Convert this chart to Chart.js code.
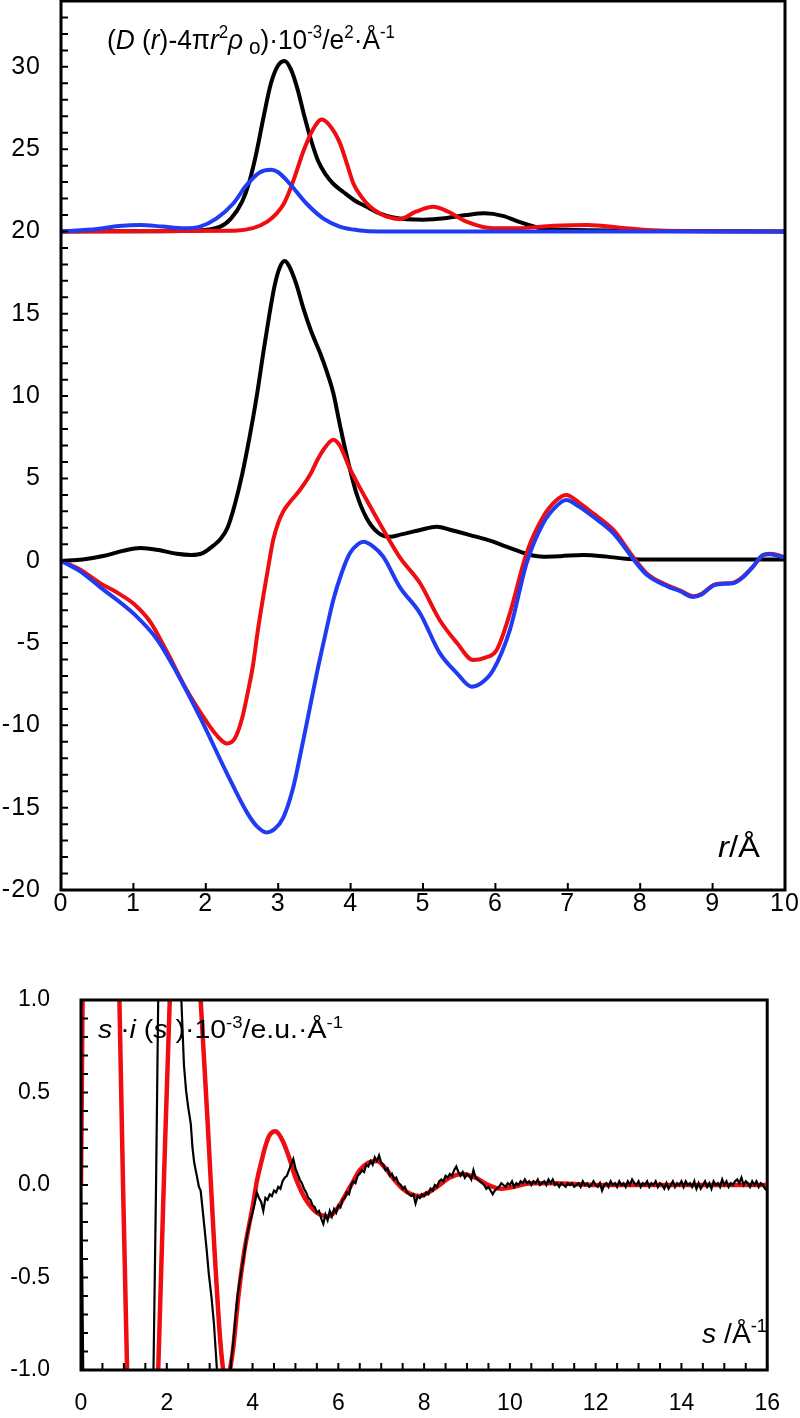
<!DOCTYPE html>
<html lang="en">
<head>
  <meta charset="UTF-8">
  <title>D(r) and s·i(s) curves</title>
  <script src="https://cdn.jsdelivr.net/npm/chart.js"></script>
  <style>
    body { margin: 0; background: #fff; }
    .panel { position: absolute; left: 0; width: 800px; }
    #topPanel { top: 0; height: 920px; }
    #bottomPanel { top: 985px; height: 433px; }
  </style>
</head>
<body>
  <div class="panel" id="topPanel"><canvas id="drChart" width="800" height="920"></canvas></div>
  <div class="panel" id="bottomPanel"><canvas id="siChart" width="800" height="433"></canvas></div>

  <script>
    // ---- top panel: radial distribution curves (upper set shifted by +20) ----
    const rBlackUp = [0, 1.0, 1.8, 2.2, 2.35, 2.5, 2.6, 2.7, 2.8, 2.9, 3.0, 3.09, 3.18, 3.27, 3.35, 3.45, 3.55, 3.65, 3.76, 3.9, 4.05, 4.22, 4.4, 4.59, 5.0, 5.3, 5.6, 5.85, 6.1, 6.35, 6.62, 7.0, 8.0, 10];
    const dBlackUp = [20, 20.02, 20.05, 20.3, 20.8, 21.8, 23.0, 24.8, 27.0, 29.0, 30.1, 30.36, 29.8, 28.6, 27.2, 25.6, 24.3, 23.5, 22.9, 22.4, 21.9, 21.5, 21.1, 20.85, 20.72, 20.8, 21.0, 21.1, 20.95, 20.55, 20.2, 20.1, 20.05, 20.0];

    const rRedUp = [0, 2.4, 2.65, 2.85, 2.98, 3.08, 3.16, 3.25, 3.35, 3.48, 3.6, 3.7, 3.85, 3.95, 4.04, 4.15, 4.27, 4.4, 4.5, 4.68, 4.9, 5.14, 5.35, 5.6, 5.97, 6.3, 6.8, 7.27, 7.8, 8.3, 10];
    const dRedUp = [20, 20.05, 20.2, 20.6, 21.1, 21.7, 22.5, 23.6, 24.9, 26.2, 26.8, 26.5, 25.4, 24.1, 22.9, 22.1, 21.5, 21.1, 20.9, 20.75, 21.2, 21.5, 21.2, 20.6, 20.2, 20.2, 20.35, 20.4, 20.2, 20.05, 20.0];

    const rBlueUp = [0, 0.5, 0.8, 1.09, 1.4, 1.7, 1.92, 2.15, 2.38, 2.56, 2.75, 2.9, 3.0, 3.16, 3.39, 3.62, 3.85, 4.1, 4.4, 10];
    const dBlueUp = [20, 20.15, 20.33, 20.4, 20.3, 20.2, 20.3, 20.8, 21.7, 22.8, 23.6, 23.75, 23.6, 22.9, 21.7, 20.8, 20.3, 20.08, 20.0, 20.0];

    const rBlackLow = [0, 0.3, 0.6, 0.85, 1.1, 1.35, 1.6, 1.8, 1.95, 2.1, 2.2, 2.3, 2.4, 2.5, 2.6, 2.7, 2.8, 2.88, 2.95, 3.02, 3.09, 3.15, 3.25, 3.35, 3.45, 3.58, 3.67, 3.76, 3.85, 3.95, 4.08, 4.22, 4.38, 4.54, 4.7, 4.96, 5.19, 5.4, 5.65, 5.97, 6.15, 6.34, 6.5, 6.66, 6.9, 7.21, 7.54, 7.8, 8.0, 10];
    const dBlackLow = [0, 0.08, 0.3, 0.6, 0.78, 0.65, 0.42, 0.35, 0.45, 0.9, 1.3, 2.0, 3.4, 5.2, 7.4, 9.9, 12.8, 15.0, 16.7, 17.8, 18.2, 17.9, 16.8, 15.3, 14.0, 12.6, 11.5, 10.2, 8.3, 6.3, 4.1, 2.6, 1.7, 1.45, 1.6, 1.87, 2.07, 1.85, 1.56, 1.16, 0.85, 0.55, 0.33, 0.25, 0.28, 0.35, 0.25, 0.12, 0.08, 0.08];

    const rRedLow = [0, 0.25, 0.54, 0.8, 1.0, 1.23, 1.46, 1.73, 2.0, 2.15, 2.29, 2.4, 2.5, 2.58, 2.65, 2.72, 2.8, 2.87, 2.93, 3.0, 3.07, 3.15, 3.3, 3.45, 3.55, 3.65, 3.76, 3.85, 3.99, 4.22, 4.45, 4.68, 4.96, 5.23, 5.47, 5.69, 5.85, 6.02, 6.2, 6.43, 6.66, 6.85, 6.98, 7.15, 7.35, 7.63, 7.9, 8.09, 8.37, 8.55, 8.73, 8.85, 9.01, 9.15, 9.29, 9.42, 9.55, 9.7, 9.79, 9.9, 10];
    const dRedLow = [0, -0.5, -1.36, -2.0, -2.6, -3.7, -5.5, -7.8, -9.7, -10.6, -11.1, -10.8, -9.6, -8.0, -6.4, -4.2, -2.0, -0.2, 1.25, 2.3, 3.0, 3.5, 4.3, 5.3, 6.2, 6.9, 7.35, 7.0, 5.6, 3.7, 1.9, 0.2, -1.37, -3.6, -5.0, -6.03, -5.9, -5.4, -3.2, 0.45, 2.67, 3.7, 4.0, 3.55, 2.88, 1.87, 0.25, -0.77, -1.48, -1.8, -2.15, -2.0, -1.48, -1.38, -1.33, -0.97, -0.4, 0.35, 0.43, 0.35, 0.2];

    const rBlueLow = [0, 0.25, 0.54, 1.0, 1.33, 1.6, 1.92, 2.29, 2.57, 2.7, 2.84, 2.95, 3.07, 3.2, 3.3, 3.42, 3.53, 3.65, 3.76, 3.88, 3.99, 4.1, 4.18, 4.3, 4.45, 4.68, 4.96, 5.23, 5.47, 5.67, 5.8, 5.97, 6.2, 6.43, 6.66, 6.85, 6.98, 7.15, 7.35, 7.63, 7.95, 8.09, 8.37, 8.55, 8.73, 8.85, 9.01, 9.15, 9.29, 9.42, 9.55, 9.7, 9.79, 9.9, 10];
    const dBlueLow = [0, -0.6, -1.6, -3.2, -4.8, -6.8, -9.5, -12.9, -15.3, -16.1, -16.5, -16.3, -15.6, -13.9, -11.9, -9.3, -6.9, -4.5, -2.4, -0.7, 0.45, 1.0, 1.15, 0.9, 0.25, -1.6, -3.2, -5.6, -6.84, -7.65, -7.45, -6.64, -4.2, -0.16, 2.27, 3.35, 3.69, 3.3, 2.67, 1.66, -0.16, -0.85, -1.55, -1.85, -2.2, -2.05, -1.5, -1.4, -1.35, -1.0, -0.4, 0.35, 0.4, 0.3, 0.2];

    const rTicks = [0, 1, 2, 3, 4, 5, 6, 7, 8, 9, 10];
    const dTicks = [-20, -15, -10, -5, 0, 5, 10, 15, 20, 25, 30];

    // ---- bottom panel: reduced molecular intensity ----
    const sFit = [0, 0.1, 0.25, 0.45, 0.65, 0.8, 0.9, 0.98, 1.08, 1.25, 1.45, 1.62, 1.8, 1.93, 2.07, 2.25, 2.45, 2.6, 2.79, 2.95, 3.1, 3.25, 3.33, 3.4, 3.47, 3.55, 3.67, 3.8, 3.9, 4.0, 4.1, 4.2, 4.3, 4.4, 4.53, 4.7, 4.85, 5.0, 5.15, 5.3, 5.5, 5.76, 6.0, 6.15, 6.3, 6.5, 6.7, 6.9, 7.1, 7.3, 7.5, 7.7, 7.9, 8.1, 8.3, 8.6, 8.9, 9.2, 9.5, 9.8, 10.1, 10.5, 11, 12, 13, 14, 15, 16];
    const iFit = [0, 2.6, 4.5, 5.0, 4.0, 2.3, 0.95, 0.0, -1.05, -2.8, -3.4, -2.6, -1.0, 0.0, 1.0, 1.9, 2.2, 1.8, 1.0, 0.35, -0.3, -0.85, -1.02, -1.05, -1.0, -0.88, -0.6, -0.37, -0.24, -0.12, 0.02, 0.12, 0.21, 0.27, 0.29, 0.24, 0.15, 0.04, -0.04, -0.1, -0.15, -0.17, -0.12, -0.06, 0.0, 0.08, 0.12, 0.13, 0.09, 0.03, -0.02, -0.05, -0.06, -0.04, -0.01, 0.04, 0.06, 0.04, 0.0, -0.02, -0.01, 0.01, 0.01, 0.0, 0.0, 0.0, 0.0, 0.0];

    // experimental curve, low-s part read point by point
    const sExpHead = [0, 0.03, 0.06, 0.3, 0.8, 1.3, 1.6, 1.69, 1.75, 1.8, 1.9, 2.1, 2.25, 2.34, 2.4, 2.45, 2.5, 2.56, 2.6, 2.64, 2.7, 2.75, 2.79, 2.83, 2.87, 2.93, 2.98, 3.04, 3.1, 3.17, 3.25, 3.35, 3.42, 3.48];
    const iExpHead = [0, -0.5, -1.2, -4, -6, -4.5, -1.6, -1.0, 0.0, 1.0, 2.5, 3.2, 2.0, 1.0, 0.65, 0.51, 0.42, 0.33, 0.2, 0.12, 0.05, -0.01, -0.03, -0.12, -0.21, -0.35, -0.48, -0.6, -0.75, -1.0, -1.3, -1.45, -1.3, -1.0];
    // noisy tail, sampled every 0.05 from s = 3.55
    const sExpTailStart = 3.55;
    const sExpTailStep = 0.05;
    const iExpTail = [
      -0.85, -0.72, -0.60, -0.52, -0.45, -0.38, -0.30, -0.24, -0.19, -0.15,
      -0.10, -0.04, -0.07, -0.09, -0.14, -0.07, -0.08, -0.05, -0.06, -0.03,
      -0.04, -0.01, -0.02, 0.02, 0.04, 0.05, 0.08, 0.11, 0.14, 0.09,
      0.06, 0.03, 0.01, -0.02, -0.04, -0.07, -0.08, -0.11, -0.12, -0.15,
      -0.14, -0.18, -0.21, -0.16, -0.19, -0.14, -0.17, -0.13, -0.15, -0.11,
      -0.12, -0.08, -0.07, -0.04, -0.05, 0.00, 0.02, 0.01, 0.05, 0.06,
      0.08, 0.07, 0.11, 0.10, 0.13, 0.11, 0.15, 0.13, 0.16, 0.12,
      0.11, 0.08, 0.09, 0.05, 0.06, 0.03, 0.04, 0.01, 0.00, -0.02,
      -0.01, -0.04, -0.05, -0.06, -0.05, -0.10, -0.06, -0.07, -0.05, -0.06,
      -0.04, -0.05, -0.02, -0.03, 0.00, -0.01, 0.02, 0.03, 0.02, 0.05,
      0.04, 0.06, 0.05, 0.08, 0.10, 0.07, 0.05, 0.07, 0.04, 0.06,
      0.05, 0.03, 0.08, 0.04, 0.03, 0.02, 0.01, 0.00, -0.02, -0.01,
      -0.03, -0.05, -0.03, -0.02, -0.01, 0.01, 0.00, -0.01, 0.01,
      0.00, 0.02, -0.01, 0.01, 0.00, 0.02, 0.01, 0.03, 0.01, 0.02,
      0.00, 0.02, 0.01, 0.03, 0.00, 0.01, 0.02, 0.00, 0.03, 0.01,
      0.03, 0.00, 0.01, -0.01, 0.01, 0.00, -0.01, 0.01, 0.00, 0.01,
      -0.01, 0.00, 0.01, -0.01, 0.02, 0.00, 0.01, -0.01, 0.00, 0.02,
      0.00, -0.01, 0.01, -0.03, 0.00, 0.01, -0.01, 0.02, 0.00, 0.01,
      -0.01, 0.02, 0.00, 0.01, -0.01, 0.02, 0.00, 0.03, 0.01, 0.00,
      0.02, -0.01, 0.01, 0.00, 0.02, -0.01, 0.01, 0.00, 0.02, -0.01,
      0.01, 0.00, -0.02, 0.01, -0.02, 0.00, 0.02, -0.01, 0.01, 0.00,
      0.02, -0.01, 0.02, 0.00, 0.01, -0.01, 0.02, -0.02, 0.01, -0.02,
      0.00, 0.02, -0.01, 0.01, -0.02, 0.02, 0.00, 0.01, -0.01, 0.03,
      0.00, 0.02, -0.01, 0.01, 0.00, 0.02, 0.03, 0.01, 0.04, 0.00,
      0.02, 0.01, -0.01, 0.02, 0.00, 0.02, -0.01, 0.01, 0.00, -0.02,
      -0.03
    ];

    const sTicks = [0, 2, 4, 6, 8, 10, 12, 14, 16];
    const siTicks = [-1, -0.5, 0, 0.5, 1];

    const BLACK = '#000000';
    const RED = '#f00d12';
    const BLUE = '#1f3cf2';
    const FAMILY = '"Liberation Sans", Arial, sans-serif';

    Chart.defaults.font.family = FAMILY;
    Chart.defaults.color = '#000';

    function pts(xs, ys) {
      return xs.map((x, i) => ({ x: x, y: ys[i] }));
    }

    const expPoints = pts(sExpHead, iExpHead).concat(
      iExpTail.map((v, i) => ({ x: +(sExpTailStart + i * sExpTailStep).toFixed(2), y: v }))
    );

    function range(a, b, step) {
      const out = [];
      for (let v = a; v <= b + 1e-9; v += step) out.push(+v.toFixed(3));
      return out;
    }

    // inward tick marks + closed frame
    function makeFrame(xMarks, yMarks, len, spacing) {
      return {
        id: 'frame',
        beforeDraw(chart) {
          chart.ctx.letterSpacing = spacing;
        },
        afterDatasetsDraw(chart) {
          const { ctx, chartArea: a, scales } = chart;
          ctx.save();
          ctx.strokeStyle = '#000';
          ctx.lineWidth = 2;
          ctx.beginPath();
          xMarks.forEach(v => {
            const px = scales.x.getPixelForValue(v);
            ctx.moveTo(px, a.bottom);
            ctx.lineTo(px, a.bottom - len);
          });
          yMarks.forEach(v => {
            const py = scales.y.getPixelForValue(v);
            ctx.moveTo(a.left, py);
            ctx.lineTo(a.left + len, py);
          });
          ctx.stroke();
          ctx.lineWidth = 3;
          ctx.strokeRect(a.left, a.top, a.right - a.left, a.bottom - a.top);
          ctx.restore();
        }
      };
    }

    // axis captions with italics, super- and subscripts
    function richText(ctx, parts, x, y, size, width) {
      const fontOf = p => (p.it ? 'italic ' : '') + Math.round(size * (p.sc || 1)) + 'px ' + FAMILY;
      ctx.save();
      ctx.letterSpacing = '0px';
      const widths = [];
      let total = 0;
      parts.forEach(p => {
        ctx.font = fontOf(p);
        const w = ctx.measureText(p.t).width;
        widths.push(w);
        total += w;
      });
      const sx = width ? width / total : 1;
      ctx.translate(x, y);
      ctx.scale(sx, 1);
      ctx.fillStyle = '#000';
      ctx.textAlign = 'left';
      ctx.textBaseline = 'alphabetic';
      let cx = 0;
      parts.forEach((p, i) => {
        ctx.font = fontOf(p);
        ctx.fillText(p.t, cx, -(p.up || 0) * size);
        cx += widths[i];
      });
      ctx.restore();
    }

    function makeLabels(items) {
      return {
        id: 'captions',
        afterDraw(chart) {
          items.forEach(it => richText(chart.ctx, it.parts, it.x, it.y, it.size, it.width));
        }
      };
    }

    const SUP = { sc: 0.64, up: 0.4 };

    const drCaption = [
      { t: '(' }, { t: 'D', it: 1 }, { t: ' (' }, { t: 'r', it: 1 }, { t: ')-4π' },
      { t: 'r', it: 1 }, Object.assign({ t: '2' }, SUP), { t: 'ρ', it: 1 },
      { t: ' o', sc: 0.8, up: -0.17 }, { t: ')·10' }, Object.assign({ t: '-3' }, SUP),
      { t: '/e' }, Object.assign({ t: '2' }, SUP), { t: '·Å' }, Object.assign({ t: '-1' }, SUP)
    ];
    const rCaption = [{ t: 'r', it: 1 }, { t: '/Å' }];
    const siCaption = [
      { t: 's', it: 1 }, { t: ' ·' }, { t: 'i', it: 1 }, { t: ' (' }, { t: 's', it: 1 },
      { t: ' )·10' }, Object.assign({ t: '-3' }, SUP), { t: '/e.u.·Å' }, Object.assign({ t: '-1' }, SUP)
    ];
    const sCaption = [{ t: 's', it: 1 }, { t: ' /Å' }, Object.assign({ t: '-1' }, SUP)];

    function line(data, color, width, smooth) {
      return {
        data: data,
        borderColor: color,
        borderWidth: width,
        pointRadius: 0,
        fill: false,
        tension: 0,
        cubicInterpolationMode: smooth ? 'monotone' : 'default'
      };
    }

    const hiddenGrid = { display: false, drawTicks: false };
    function fitY(width) {
      return s => { s.width = width; s.paddingTop = 0; s.paddingBottom = 0; };
    }

    // top chart
    new Chart(document.getElementById('drChart'), {
      type: 'line',
      data: {
        datasets: [
          line(pts(rBlueUp, dBlueUp), BLUE, 4, true),
          line(pts(rBlueLow, dBlueLow), BLUE, 4, true),
          line(pts(rRedUp, dRedUp), RED, 4, true),
          line(pts(rRedLow, dRedLow), RED, 4, true),
          line(pts(rBlackUp, dBlackUp), BLACK, 4, true),
          line(pts(rBlackLow, dBlackLow), BLACK, 4, true)
        ]
      },
      options: {
        responsive: false,
        animation: false,
        devicePixelRatio: 1,
        layout: { padding: { top: 1, right: 15, left: 0, bottom: 0 } },
        plugins: { legend: { display: false }, tooltip: { enabled: false } },
        scales: {
          x: {
            type: 'linear', min: 0, max: 10,
            afterFit: s => { s.height = 30; },
            afterBuildTicks: s => { s.ticks = rTicks.map(v => ({ value: v })); },
            ticks: { padding: -1, font: { size: 25 }, maxRotation: 0, autoSkip: false },
            grid: hiddenGrid, border: { display: false }
          },
          y: {
            type: 'linear', min: -20, max: 34,
            afterFit: fitY(61),
            afterBuildTicks: s => { s.ticks = dTicks.map(v => ({ value: v })); },
            ticks: { padding: 20, font: { size: 25 } },
            grid: hiddenGrid, border: { display: false }
          }
        }
      },
      plugins: [
        makeFrame(rTicks, range(-20, 34, 1), 7, '1px'),
        makeLabels([
          { parts: drCaption, x: 107, y: 49, size: 28, width: 288 },
          { parts: rCaption, x: 718, y: 857, size: 29, width: 42 }
        ])
      ]
    });

    // bottom chart
    new Chart(document.getElementById('siChart'), {
      type: 'line',
      data: {
        datasets: [
          line(expPoints, BLACK, 2.2, false),
          line(pts(sFit, iFit), RED, 4.5, true)
        ]
      },
      options: {
        responsive: false,
        animation: false,
        devicePixelRatio: 1,
        layout: { padding: { top: 15, right: 18, left: 0, bottom: 0 } },
        plugins: { legend: { display: false }, tooltip: { enabled: false } },
        scales: {
          x: {
            type: 'linear', min: 0, max: 16,
            afterFit: s => { s.height = 48; },
            afterBuildTicks: s => { s.ticks = sTicks.map(v => ({ value: v })); },
            ticks: { padding: 20, font: { size: 23 }, maxRotation: 0, autoSkip: false },
            grid: hiddenGrid, border: { display: false }
          },
          y: {
            type: 'linear', min: -1, max: 1,
            afterFit: fitY(81),
            afterBuildTicks: s => { s.ticks = siTicks.map(v => ({ value: v })); },
            ticks: { padding: 31, font: { size: 23 }, callback: v => v.toFixed(1) },
            grid: hiddenGrid, border: { display: false }
          }
        }
      },
      plugins: [
        makeFrame(range(0, 16, 0.5), range(-1, 1, 0.1), 7, '0px'),
        makeLabels([
          { parts: siCaption, x: 98, y: 53, size: 26, width: 245 },
          { parts: sCaption, x: 702, y: 358, size: 28, width: 65 }
        ])
      ]
    });
  </script>
</body>
</html>
